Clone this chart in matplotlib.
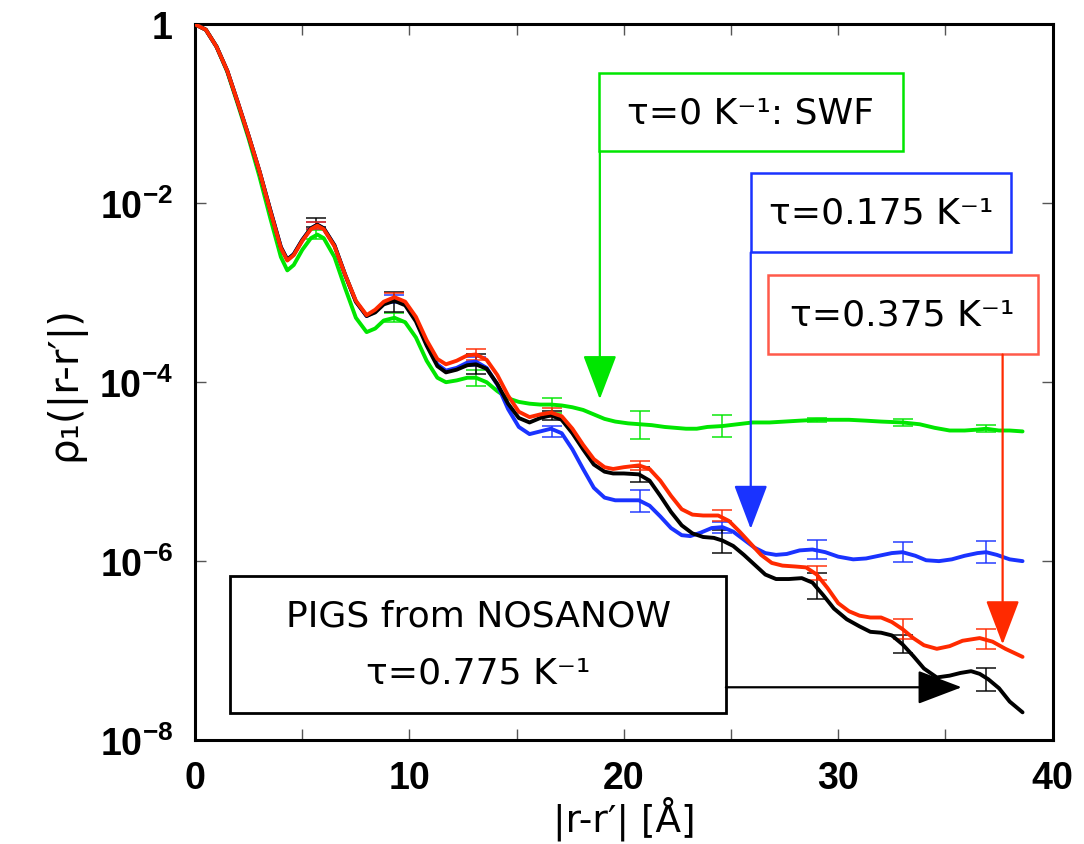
import numpy as np
import matplotlib
matplotlib.use("Agg")
import matplotlib.pyplot as plt
from matplotlib.patches import Rectangle

plt.rcParams['mathtext.fontset'] = 'custom'
plt.rcParams['mathtext.rm'] = 'Liberation Sans:bold'
plt.rcParams['mathtext.default'] = 'rm'

# ---- one-body density matrix, log10(rho_1) versus |r-r'| (Angstrom) ----
x_swf = [0, 0.5, 1.0, 1.5, 2.0, 2.5, 3.0, 3.5, 4.0, 4.3, 4.6, 5.0, 5.4, 5.7, 6.0, 6.5, 7.0, 7.5,
         8.0, 8.4, 8.8, 9.3, 9.8, 10.3, 10.8, 11.3, 11.7, 12.2, 12.7, 13.1, 13.6, 14.1, 14.6,
         15.1, 15.6, 16.1, 16.6, 17.1, 17.6, 18.1, 18.6, 19.1, 19.6, 20.2, 20.75, 21.3, 21.9,
         22.4, 22.9, 23.4, 23.9, 24.6, 25.3, 26.0, 26.8, 27.5, 28.2, 29.0, 29.7, 30.5, 31.3,
         32.0, 33.0, 33.8, 34.5, 35.2, 35.9, 36.5, 36.9, 37.5, 38.0, 38.6]
lg_swf = [0, -0.06, -0.25, -0.53, -0.90, -1.28, -1.70, -2.16, -2.60, -2.75, -2.69, -2.52, -2.39,
          -2.35, -2.39, -2.60, -2.95, -3.28, -3.44, -3.40, -3.31, -3.28, -3.33, -3.50, -3.76,
          -3.95, -4.00, -3.98, -3.95, -3.95, -4.00, -4.10, -4.18, -4.22, -4.24, -4.25, -4.25,
          -4.26, -4.28, -4.31, -4.36, -4.41, -4.44, -4.46, -4.47, -4.48, -4.50, -4.51, -4.52,
          -4.52, -4.50, -4.49, -4.47, -4.45, -4.45, -4.44, -4.43, -4.42, -4.42, -4.42, -4.43,
          -4.44, -4.45, -4.47, -4.51, -4.54, -4.54, -4.53, -4.52, -4.54, -4.54, -4.55]

x_t175 = [0, 0.5, 1.0, 1.5, 2.0, 2.5, 3.0, 3.5, 4.0, 4.3, 4.6, 5.0, 5.4, 5.7, 6.0, 6.5, 7.0, 7.5,
          8.0, 8.4, 8.8, 9.3, 9.8, 10.3, 10.8, 11.3, 11.7, 12.2, 12.7, 13.1, 13.6, 14.1, 14.6,
          15.1, 15.6, 16.1, 16.6, 17.1, 17.6, 18.1, 18.6, 19.1, 19.6, 20.2, 20.7, 21.2, 21.7,
          22.2, 22.7, 23.1, 23.6, 24.1, 24.6, 25.1, 25.6, 26.1, 26.6, 27.1, 27.6, 28.2, 28.8,
          29.4, 30.0, 30.7, 31.3, 31.9, 32.5, 33.0, 33.6, 34.1, 34.7, 35.3, 35.9, 36.5, 36.9,
          37.4, 38.0, 38.6]
lg_t175 = [0, -0.06, -0.25, -0.52, -0.88, -1.25, -1.64, -2.07, -2.49, -2.63, -2.57, -2.41, -2.28,
           -2.24, -2.28, -2.47, -2.80, -3.10, -3.26, -3.21, -3.12, -3.07, -3.12, -3.30, -3.57,
           -3.80, -3.87, -3.84, -3.78, -3.77, -3.84, -4.03, -4.30, -4.50, -4.58, -4.55, -4.52,
           -4.57, -4.75, -4.97, -5.18, -5.29, -5.32, -5.32, -5.32, -5.38, -5.50, -5.63, -5.71,
           -5.72, -5.68, -5.63, -5.62, -5.67, -5.76, -5.85, -5.91, -5.93, -5.92, -5.88, -5.87,
           -5.90, -5.95, -5.98, -5.97, -5.94, -5.91, -5.90, -5.94, -5.99, -6.00, -5.98, -5.94,
           -5.91, -5.90, -5.93, -5.98, -6.00]

x_t375 = [0, 0.5, 1.0, 1.5, 2.0, 2.5, 3.0, 3.5, 4.0, 4.3, 4.6, 5.0, 5.4, 5.7, 6.0, 6.5, 7.0, 7.5,
          8.0, 8.4, 8.8, 9.3, 9.8, 10.3, 10.8, 11.3, 11.7, 12.2, 12.7, 13.1, 13.6, 14.1, 14.6,
          15.1, 15.6, 16.1, 16.6, 17.1, 17.6, 18.1, 18.6, 19.1, 19.5, 20.0, 20.7, 21.2, 21.7,
          22.2, 22.7, 23.2, 23.7, 24.4, 24.9, 25.4, 25.9, 26.4, 26.9, 27.4, 28.0, 28.5, 29.0,
          29.5, 30.0, 30.5, 31.0, 31.5, 32.0, 32.5, 33.0, 33.5, 34.0, 34.6, 35.2, 35.8, 36.6,
          37.2, 37.8, 38.6]
lg_t375 = [0, -0.06, -0.25, -0.52, -0.88, -1.25, -1.64, -2.08, -2.50, -2.64, -2.58, -2.42, -2.29,
           -2.25, -2.29, -2.48, -2.80, -3.09, -3.25, -3.19, -3.10, -3.05, -3.10, -3.27, -3.53,
           -3.74, -3.80, -3.76, -3.70, -3.69, -3.75, -3.92, -4.15, -4.33, -4.39, -4.36, -4.34,
           -4.38, -4.52, -4.70, -4.86, -4.95, -4.97, -4.95, -4.93, -4.97, -5.10, -5.27, -5.42,
           -5.48, -5.49, -5.49, -5.55, -5.67, -5.80, -5.93, -6.02, -6.05, -6.06, -6.07, -6.15,
           -6.30, -6.47, -6.56, -6.61, -6.63, -6.63, -6.68, -6.76, -6.86, -6.94, -6.98, -6.95,
           -6.89, -6.86, -6.90, -6.98, -7.07]

x_t775 = [0, 0.5, 1.0, 1.5, 2.0, 2.5, 3.0, 3.5, 4.0, 4.3, 4.6, 5.0, 5.4, 5.7, 6.0, 6.5, 7.0, 7.5,
          8.0, 8.4, 8.8, 9.3, 9.8, 10.3, 10.8, 11.3, 11.7, 12.2, 12.7, 13.1, 13.6, 14.1, 14.6,
          15.1, 15.6, 16.1, 16.6, 17.1, 17.6, 18.1, 18.6, 19.1, 19.5, 20.0, 20.7, 21.2, 21.7,
          22.2, 22.7, 23.2, 23.7, 24.2, 24.6, 25.1, 25.6, 26.1, 26.6, 27.1, 27.7, 28.3, 28.8,
          29.3, 29.8, 30.4, 31.0, 31.5, 32.0, 32.5, 33.0, 33.5, 34.0, 34.6, 35.2, 35.7, 36.2,
          36.6, 37.0, 37.5, 38.0, 38.6]
lg_t775 = [0, -0.06, -0.25, -0.52, -0.88, -1.25, -1.64, -2.07, -2.49, -2.63, -2.57, -2.41, -2.28,
           -2.24, -2.28, -2.47, -2.80, -3.10, -3.26, -3.22, -3.13, -3.09, -3.14, -3.32, -3.59,
           -3.82, -3.89, -3.86, -3.81, -3.80, -3.85, -4.02, -4.24, -4.40, -4.45, -4.40, -4.37,
           -4.42, -4.57, -4.75, -4.92, -5.00, -5.02, -5.02, -5.03, -5.10, -5.27, -5.45, -5.60,
           -5.69, -5.73, -5.74, -5.77, -5.83, -5.93, -6.04, -6.15, -6.20, -6.20, -6.19, -6.24,
           -6.38, -6.53, -6.65, -6.73, -6.79, -6.80, -6.83, -6.93, -7.06, -7.20, -7.30, -7.28,
           -7.25, -7.23, -7.26, -7.32, -7.42, -7.57, -7.69]

# ---- statistical error bars: positions, centres (log10) and half-widths (decades) ----
x_err = [5.65, 9.3, 13.1, 16.65, 20.75, 24.6, 29.0, 33.0, 36.9]
err_swf_c = [-2.35, -3.28, -3.95, -4.26, -4.48, -4.49, -4.42, -4.45, -4.52]
err_swf_d = [0.05, 0.05, 0.09, 0.08, 0.16, 0.12, 0.02, 0.04, 0.04]
err_t175_c = [-2.25, -3.07, -3.77, -4.55, -5.33, -5.62, -5.87, -5.90, -5.90]
err_t175_d = [0.04, 0.04, 0.05, 0.06, 0.12, 0.06, 0.11, 0.11, 0.12]
err_t375_c = [-2.25, -3.05, -3.69, -4.34, -4.93, -5.49, -6.13, -6.76, -6.87]
err_t375_d = [0.04, 0.05, 0.06, 0.05, 0.05, 0.06, 0.08, 0.11, 0.11]
err_t775_c = [-2.22, -3.10, -3.80, -4.37, -5.03, -5.78, -6.28, -6.93, -7.32]
err_t775_d = [0.05, 0.11, 0.11, 0.05, 0.08, 0.13, 0.145, 0.10, 0.13]

y_ticks = [1, 1e-2, 1e-4, 1e-6, 1e-8]
y_tick_labels = ["1", "$10^{-2}$", "$10^{-4}$", "$10^{-6}$", "$10^{-8}$"]
x_ticks = [0, 10, 20, 30, 40]

GREEN, BLUE, RED, BLACK = "#00e600", "#1a33ff", "#ff2a00", "#000000"

fig = plt.figure(figsize=(10.84, 8.45), dpi=100)
ax = fig.add_axes([0.180, 0.123, 0.791, 0.847])
ax.set_yscale("log")
ax.set_xlim(0, 40)
ax.set_ylim(1e-8, 1)

series = [
    (x_swf, lg_swf, err_swf_c, err_swf_d, GREEN),
    (x_t175, lg_t175, err_t175_c, err_t175_d, BLUE),
    (x_t775, lg_t775, err_t775_c, err_t775_d, BLACK),
    (x_t375, lg_t375, err_t375_c, err_t375_d, RED),
]
for xs, lg, ec, ed, col in series:
    ax.plot(xs, 10.0 ** np.asarray(lg), color=col, lw=2.8, solid_joinstyle="round",
            solid_capstyle="round", zorder=3)
    c = 10.0 ** np.asarray(ec)
    d = np.asarray(ed)
    yerr = [c - c * 10.0 ** (-d), c * 10.0 ** d - c]
    ax.errorbar(x_err, c, yerr=yerr, fmt="none", ecolor=col, elinewidth=1.3,
                capsize=7, capthick=1.3, alpha=0.8, zorder=2)

# axes frame and ticks
for sp in ax.spines.values():
    sp.set_linewidth(2.2)
ax.set_yticks(y_ticks)
ax.set_yticklabels(y_tick_labels)
ax.yaxis.set_minor_locator(matplotlib.ticker.NullLocator())
ax.set_xticks(x_ticks)
ax.set_xticks([5, 15, 25, 35], minor=True)
ax.tick_params(which="both", direction="in", top=True, right=True, length=8, width=1.0,
               color="#555555")
ax.tick_params(axis="x", which="major", pad=14)
ax.tick_params(axis="y", which="major", pad=16)
for lab in ax.get_xticklabels() + ax.get_yticklabels():
    lab.set_fontfamily("Liberation Sans")
    lab.set_fontweight("bold")
    lab.set_fontsize(27)

ax.set_xlabel("|r-r\u2032| [\u00c5]", fontsize=27, family="DejaVu Sans", labelpad=0)
ax.set_ylabel("\u03c1\u2081(|r-r\u2032|)", fontsize=29, family="DejaVu Sans", labelpad=10)

# annotation boxes (axes fraction) and their arrows (data coordinates)
def box(x0, y0, x1, y1, ec, lw=1.8):
    ax.add_patch(Rectangle((x0, y0), x1 - x0, y1 - y0, transform=ax.transAxes,
                           fill=True, facecolor="white", edgecolor=ec, lw=lw, zorder=5))

def arrow(start, tip, col):
    ax.annotate("", xy=tip, xytext=start, xycoords="data", textcoords="data",
                arrowprops=dict(arrowstyle="-|>,head_length=1.0,head_width=0.38",
                                mutation_scale=28, lw=1.6, color=col,
                                shrinkA=0, shrinkB=0), zorder=6)

txt = dict(fontsize=26, family="DejaVu Sans", ha="center", va="center",
           transform=ax.transAxes, zorder=7)

box(0.471, 0.8226, 0.825, 0.9316, GREEN)
ax.text(0.648, 0.877, "\u03c4=0 K\u207b\u00b9: SWF", **txt)
arrow((18.88, 10 ** -1.42), (18.88, 10 ** -4.19), GREEN)

box(0.648, 0.6816, 0.952, 0.7919, BLUE)
ax.text(0.800, 0.737, "\u03c4=0.175 K\u207b\u00b9", **txt)
arrow((25.92, 10 ** -2.55), (25.92, 10 ** -5.64), BLUE)

box(0.668, 0.539, 0.9825, 0.6494, "#ff5a4a")
ax.text(0.825, 0.594, "\u03c4=0.375 K\u207b\u00b9", **txt)
arrow((37.67, 10 ** -3.69), (37.67, 10 ** -6.93), RED)

box(0.0408, 0.0377, 0.619, 0.229, BLACK, lw=2.0)
ax.text(0.330, 0.174, "PIGS from NOSANOW", **txt)
ax.text(0.330, 0.094, "\u03c4=0.775 K\u207b\u00b9", **txt)
arrow((24.76, 10 ** -7.41), (35.76, 10 ** -7.41), BLACK)

fig.savefig("out.png", dpi=100)
